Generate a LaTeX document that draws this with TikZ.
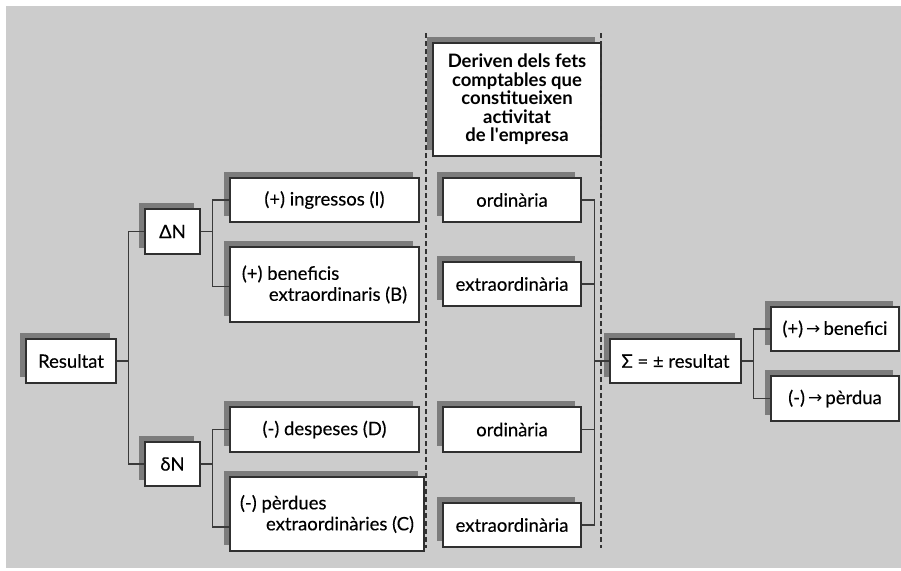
\documentclass[tikz,border=0pt]{standalone}
\usepackage{fontspec}
\setmainfont{Lato}[UprightFeatures={FakeBold=0.3}]
\newfontfamily\arrowfont{DejaVu Sans}
\usetikzlibrary{shadows}
\definecolor{bggray}{HTML}{CCCCCC}
\definecolor{shadegray}{HTML}{7C7C7C}
\definecolor{edgegray}{HTML}{303030}
\definecolor{wiregray}{HTML}{3A3A3A}
\newcommand{\ra}{\raisebox{0.5pt}{\arrowfont\fontsize{17}{18}\selectfont →}}
\begin{document}
\begin{tikzpicture}[x=1pt,y=-1pt,
  every node/.style={font=\fontsize{18.5}{21}\selectfont, text=black, inner sep=0pt},
  box/.style n args={2}{draw=edgegray, line width=1.3pt, fill=white,
    minimum width=#1pt, minimum height=#2pt,
    drop shadow={shadow xshift=-6pt, shadow yshift=6pt, fill=shadegray, opacity=1}},
  wire/.style={draw=wiregray, line width=1.4pt},
  divider/.style={draw=black!80, line width=1.2pt, dash pattern=on 4.5pt off 3.5pt}]
  % canvas
  \useasboundingbox (0,0) rectangle (901,570);
  \fill[bggray] (6,6) rectangle (901,568);

  % left tree
  \node[box={90}{44}] (res) at (71,361) {Resultat};
  \node[box={55}{45}] (dN) at (172.5,231.5) {ΔN};
  \node[box={55}{44}] (sN) at (172.5,464) {δN};
  \node[box={189}{44}] (ing) at (324.5,200) {(+) ingressos (I)};
  \node[box={189}{75}, align=left] (ben) at (324.5,284.5)
    {(+) beneficis\\\hspace*{27pt}extraordinaris (B)};
  \node[box={189}{45}] (des) at (324.5,429.5) {(-) despeses (D)};
  \node[box={194}{74}, align=left] (per) at (327,514)
    {(-) pèrdues\\\hspace*{26pt}extraordinàries (C)};

  % middle column
  \node[box={168}{113}, align=center, font=\bfseries\fontsize{18.5}{18.5}\selectfont] (der) at (517,99.5)
    {Deriven dels fets\\comptables que\\constitueixen\\activitat\\de l\textquotesingle empresa};
  \node[box={138}{44}] (ord1) at (512,200) {ordinària};
  \node[box={138}{44}] (ext1) at (512,284) {extraordinària};
  \node[box={138}{45}] (ord2) at (512,429.5) {ordinària};
  \node[box={138}{44}] (ext2) at (512,525) {extraordinària};

  % right tree
  \node[box={131}{44}] (sig) at (675.5,361) {Σ = ± resultat};
  \node[box={128}{44}] (ben2) at (835,329) {(+)\,\ra\,benefici};
  \node[box={128}{45}] (per2) at (835,398.5) {(-)\,\ra\,pèrdua};

  % connectors
  \draw[wire] (res.east) -- ++(12,0) coordinate (j1);
  \draw[wire] (dN.west) -| (j1) |- (sN.west);
  \draw[wire] (dN.east) -- ++(12,0) coordinate (j2);
  \draw[wire] (ing.west) -| (j2) |- ([yshift=-2pt]ben.west);
  \draw[wire] (sN.east) -- ++(12,0) coordinate (j3);
  \draw[wire] (des.west) -| (j3) |- ([yshift=-13pt]per.west);
  \draw[wire] (ord1.east) -- ++(13,0) coordinate (j4);
  \draw[wire] (j4) |- (ext2.east);
  \draw[wire] (ext1.east) -- (ext1.east -| j4);
  \draw[wire] (ord2.east) -- (ord2.east -| j4);
  \draw[wire] (sig.west) -- (sig.west -| j4);
  \draw[wire] (sig.east) -- ++(12,0) coordinate (j5);
  \draw[wire] (ben2.west) -| (j5) |- (per2.west);

  % dashed dividers of the middle column
  \coordinate (dTopL) at (426,33);
  \coordinate (dBotL) at (426,548);
  \coordinate (dTopR) at (601,33);
  \coordinate (dBotR) at (601,548);
  \draw[divider] (dTopL) -- (dBotL);
  \draw[divider] (dTopR) -- (dBotR);
\end{tikzpicture}
\end{document}
